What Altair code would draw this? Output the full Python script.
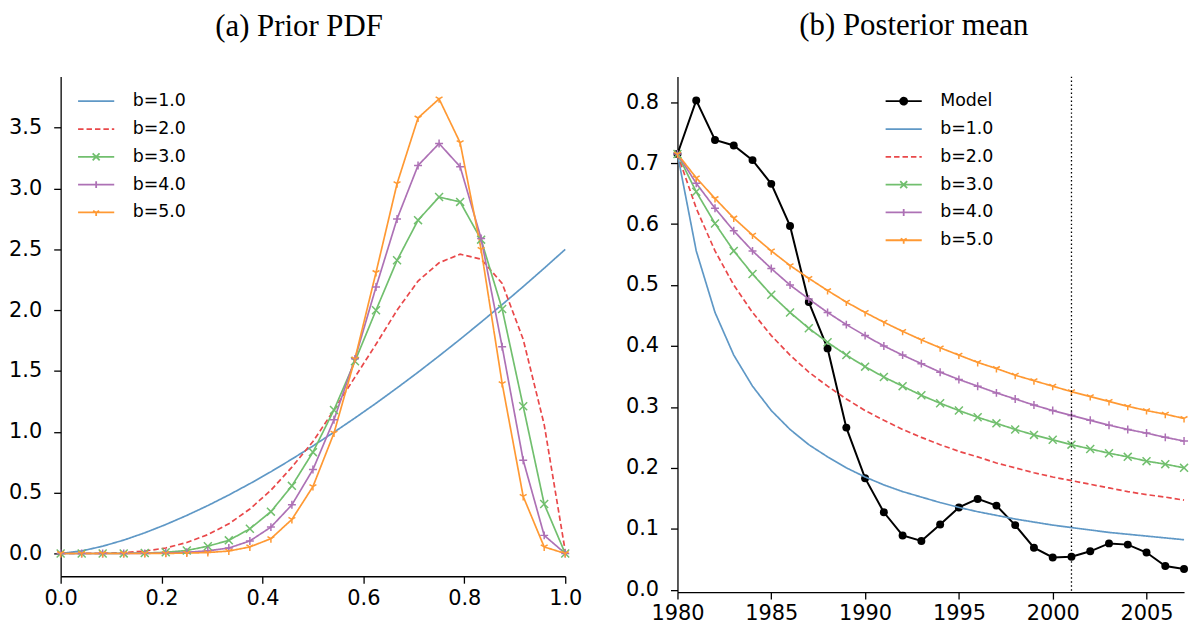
import altair as alt
import pandas as pd

# ---------------- data: (a) prior PDF ----------------
prior_x = [0.0, 0.0417, 0.0833, 0.125, 0.1667, 0.2083, 0.25, 0.2917, 0.3333, 0.375,
           0.4167, 0.4583, 0.5, 0.5417, 0.5833, 0.625, 0.6667, 0.7083, 0.75, 0.7917,
           0.8333, 0.875, 0.9167, 0.9583, 1.0]
prior_b1 = [0.0, 0.021, 0.060, 0.110, 0.170, 0.238, 0.313, 0.394, 0.481, 0.574,
            0.672, 0.776, 0.884, 0.997, 1.114, 1.235, 1.361, 1.490, 1.624, 1.761,
            1.902, 2.046, 2.194, 2.345, 2.500]
prior_b2 = [0.0, 0.0, 0.002, 0.007, 0.02, 0.045, 0.09, 0.155, 0.244, 0.366,
            0.52, 0.71, 0.92, 1.18, 1.45, 1.72, 2.0, 2.24, 2.39, 2.46,
            2.42, 2.22, 1.76, 1.06, 0.02]
prior_b3 = [0.0, 0.0, 0.0, 0.001, 0.004, 0.01, 0.025, 0.06, 0.108, 0.203,
            0.344, 0.556, 0.833, 1.18, 1.58, 2.0, 2.41, 2.74, 2.93, 2.89,
            2.58, 2.01, 1.21, 0.407, 0.0]
prior_b4 = [0.0, 0.0, 0.0, 0.0, 0.001, 0.004, 0.01, 0.022, 0.045, 0.103,
            0.217, 0.40, 0.69, 1.10, 1.60, 2.19, 2.75, 3.19, 3.37, 3.18,
            2.59, 1.70, 0.767, 0.149, 0.0]
prior_b5 = [0.0, 0.0, 0.0, 0.0, 0.0, 0.001, 0.003, 0.008, 0.02, 0.054,
            0.122, 0.28, 0.55, 0.99, 1.60, 2.31, 3.04, 3.58, 3.737, 3.377,
            2.50, 1.397, 0.469, 0.054, 0.0]

# ---------------- data: (b) posterior mean ----------------
years = list(range(1980, 2008))
model = [0.715, 0.803, 0.738, 0.729, 0.705, 0.666, 0.597, 0.472, 0.396, 0.266,
         0.183, 0.127, 0.089, 0.080, 0.107, 0.135, 0.149, 0.138, 0.106, 0.069,
         0.053, 0.054, 0.063, 0.076, 0.074, 0.061, 0.039, 0.034]
post_b1 = [0.715, 0.556, 0.455, 0.385, 0.334, 0.294, 0.263, 0.238, 0.218, 0.200,
           0.185, 0.172, 0.161, 0.152, 0.143, 0.135, 0.128, 0.122, 0.116, 0.111,
           0.106, 0.102, 0.098, 0.094, 0.091, 0.088, 0.085, 0.082]
post_b2 = [0.715, 0.626, 0.556, 0.500, 0.455, 0.417, 0.385, 0.357, 0.334, 0.313,
           0.294, 0.278, 0.263, 0.250, 0.238, 0.227, 0.218, 0.208, 0.200, 0.192,
           0.185, 0.179, 0.173, 0.167, 0.161, 0.156, 0.152, 0.147]
post_b3 = [0.715, 0.653, 0.601, 0.556, 0.518, 0.484, 0.455, 0.429, 0.406, 0.385,
           0.366, 0.349, 0.334, 0.319, 0.306, 0.294, 0.283, 0.273, 0.263, 0.254,
           0.246, 0.238, 0.231, 0.224, 0.218, 0.211, 0.206, 0.200]
post_b4 = [0.715, 0.667, 0.626, 0.589, 0.556, 0.527, 0.500, 0.477, 0.455, 0.435,
           0.417, 0.400, 0.385, 0.371, 0.357, 0.345, 0.334, 0.323, 0.313, 0.303,
           0.294, 0.286, 0.278, 0.270, 0.263, 0.257, 0.250, 0.244]
post_b5 = [0.715, 0.676, 0.642, 0.610, 0.582, 0.556, 0.532, 0.511, 0.491, 0.472,
           0.455, 0.439, 0.424, 0.410, 0.397, 0.385, 0.373, 0.363, 0.352, 0.343,
           0.334, 0.325, 0.317, 0.309, 0.301, 0.294, 0.288, 0.281]
cutoff_year = 2001

b_names = ["b=1.0", "b=2.0", "b=3.0", "b=4.0", "b=5.0"]
b_colors = ["#5f98c6", "#e9484a", "#71bf6e", "#ad71b5", "#ff9933"]
b_dashes = [[1, 0], [5.5, 3], [1, 0], [1, 0], [1, 0]]
marker_names = b_names[2:]
marker_colors = b_colors[2:]
# x, plus, tri_down  (unit-square paths)
marker_paths = ["M-1,-1L1,1M-1,1L1,-1", "M-1,0L1,0M0,-1L0,1",
                "M0,0L0,1M0,0L-0.866,-0.5M0,0L0.866,-0.5"]
seg = "M-2.6,0L2.6,0"
legend_paths_b = [seg, seg,
                  seg + "M-0.5,-0.5L0.5,0.5M-0.5,0.5L0.5,-0.5",
                  seg + "M0,-0.5L0,0.5",
                  seg + "M0,0L0,0.5M0,0L-0.433,-0.25M0,0L0.433,-0.25"]
dot = ("M0.5,0A0.5,0.5,0,1,1,-0.5,0A0.5,0.5,0,1,1,0.5,0"
       "M0.3,0A0.3,0.3,0,1,1,-0.3,0A0.3,0.3,0,1,1,0.3,0"
       "M0.12,0A0.12,0.12,0,1,1,-0.12,0A0.12,0.12,0,1,1,0.12,0")
legend_paths_r = [seg + dot] + legend_paths_b

prior_series = [prior_b1, prior_b2, prior_b3, prior_b4, prior_b5]
prior_rows = []
for name, vals in zip(b_names, prior_series):
    for xv, yv in zip(prior_x, vals):
        prior_rows.append({"x": xv, "y": yv, "series": name})
prior_df = pd.DataFrame(prior_rows)

post_series = [post_b1, post_b2, post_b3, post_b4, post_b5]
post_rows = []
for name, vals in zip(b_names, post_series):
    for xv, yv in zip(years, vals):
        post_rows.append({"year": xv, "y": yv, "series": name})
post_df = pd.DataFrame(post_rows)
model_df = pd.DataFrame({"year": years, "y": model, "series": ["Model"] * len(years)})
legend_df = pd.concat([model_df, post_df], ignore_index=True)
rule_df = pd.DataFrame({"year": [cutoff_year]})

FONT = "DejaVu Sans"
TITLE_FONT = "Liberation Serif"


def make_legend(x, y):
    return alt.Legend(title=None, orient="none", legendX=x, legendY=y,
                      symbolSize=196, symbolStrokeWidth=1.8, symbolOpacity=1,
                      labelOffset=28, rowPadding=9, padding=0,
                      labelFont=FONT, labelFontSize=17.5, labelColor="black")


# ---------------- left panel ----------------
xl = alt.X("x:Q", scale=alt.Scale(domain=[0, 1], nice=False, zero=False),
           axis=alt.Axis(values=[0, 0.2, 0.4, 0.6, 0.8, 1.0], format=".1f", title=None))
yl = alt.Y("y:Q", scale=alt.Scale(domain=[-0.187, 3.92], nice=False, zero=False),
           axis=alt.Axis(values=[0, 0.5, 1.0, 1.5, 2.0, 2.5, 3.0, 3.5], format=".1f", title=None))

pbase = alt.Chart(prior_df)
p_lines = pbase.mark_line(strokeWidth=1.7).encode(
    xl, yl,
    color=alt.Color("series:N", scale=alt.Scale(domain=b_names, range=b_colors), legend=None),
    strokeDash=alt.StrokeDash("series:N", scale=alt.Scale(domain=b_names, range=b_dashes), legend=None),
)
p_marks = pbase.transform_filter(
    alt.FieldOneOfPredicate(field="series", oneOf=marker_names)
).mark_point(filled=False, strokeWidth=1.5, size=64, opacity=1).encode(
    xl, yl,
    color=alt.Color("series:N", scale=alt.Scale(domain=marker_names, range=marker_colors), legend=None),
    shape=alt.Shape("series:N", scale=alt.Scale(domain=marker_names, range=marker_paths), legend=None),
)
lg_l = make_legend(27, 16)
p_leg = pbase.transform_filter("false").mark_point(filled=False, opacity=1).encode(
    xl, yl,
    color=alt.Color("series:N", scale=alt.Scale(domain=b_names, range=b_colors), legend=lg_l),
    shape=alt.Shape("series:N", scale=alt.Scale(domain=b_names, range=legend_paths_b), legend=lg_l),
    strokeDash=alt.StrokeDash("series:N", scale=alt.Scale(domain=b_names, range=b_dashes), legend=lg_l),
)
left = alt.layer(p_lines, p_marks, p_leg).resolve_scale(
    color="independent", shape="independent", strokeDash="independent"
).properties(
    width=508, height=503,
    title=alt.TitleParams("(a) Prior PDF", font=TITLE_FONT, fontSize=31, fontWeight="normal",
                          color="black", anchor="middle", baseline="alphabetic", offset=10, dx=-14),
)

# ---------------- right panel ----------------
xr = alt.X("year:Q", scale=alt.Scale(domain=[1980, 2007], nice=False, zero=False),
           axis=alt.Axis(values=[1980, 1985, 1990, 1995, 2000, 2005], format="d", title=None))
yr = alt.Y("y:Q", scale=alt.Scale(domain=[-0.004, 0.842], nice=False, zero=False),
           axis=alt.Axis(values=[0, 0.1, 0.2, 0.3, 0.4, 0.5, 0.6, 0.7, 0.8], format=".1f", title=None))

m_line = alt.Chart(model_df).mark_line(color="black", strokeWidth=2).encode(xr, yr)
m_pts = alt.Chart(model_df).mark_circle(color="black", size=64, opacity=1).encode(xr, yr)
rbase = alt.Chart(post_df)
r_lines = rbase.mark_line(strokeWidth=1.7).encode(
    xr, yr,
    color=alt.Color("series:N", scale=alt.Scale(domain=b_names, range=b_colors), legend=None),
    strokeDash=alt.StrokeDash("series:N", scale=alt.Scale(domain=b_names, range=b_dashes), legend=None),
)
r_marks = rbase.transform_filter(
    alt.FieldOneOfPredicate(field="series", oneOf=marker_names)
).mark_point(filled=False, strokeWidth=1.5, size=64, opacity=1).encode(
    xr, yr,
    color=alt.Color("series:N", scale=alt.Scale(domain=marker_names, range=marker_colors), legend=None),
    shape=alt.Shape("series:N", scale=alt.Scale(domain=marker_names, range=marker_paths), legend=None),
)
rule = alt.Chart(rule_df).mark_rule(color="black", strokeWidth=1.3, strokeDash=[1.5, 2.5]).encode(
    x=alt.X("year:Q")
)
r_names = ["Model"] + b_names
r_colors = ["black"] + b_colors
r_dashes = [[1, 0]] + b_dashes
lg_r = make_legend(219, 16)
r_leg = alt.Chart(legend_df).transform_filter("false").mark_point(filled=False, opacity=1).encode(
    xr, yr,
    color=alt.Color("series:N", scale=alt.Scale(domain=r_names, range=r_colors), legend=lg_r),
    shape=alt.Shape("series:N", scale=alt.Scale(domain=r_names, range=legend_paths_r), legend=lg_r),
    strokeDash=alt.StrokeDash("series:N", scale=alt.Scale(domain=r_names, range=r_dashes), legend=lg_r),
)
right = alt.layer(m_line, m_pts, r_lines, r_marks, rule, r_leg).resolve_scale(
    color="independent", shape="independent", strokeDash="independent"
).properties(
    width=510, height=519,
    title=alt.TitleParams("(b) Posterior mean", font=TITLE_FONT, fontSize=31, fontWeight="normal",
                          color="black", anchor="middle", baseline="alphabetic", offset=10, dx=-17),
)

chart = alt.hconcat(left, right, spacing=43).properties(padding=0).configure_view(
    stroke=None
).configure_axis(
    grid=False, domainColor="black", domainWidth=1.3, tickColor="black", tickWidth=1.3,
    tickSize=7, labelColor="black", labelFont=FONT, labelFontSize=21, labelFlush=False,
).configure_axisY(labelPadding=12).configure_axisX(labelPadding=4)

chart.save("out.html", embed_options={"renderer": "svg", "actions": False})
